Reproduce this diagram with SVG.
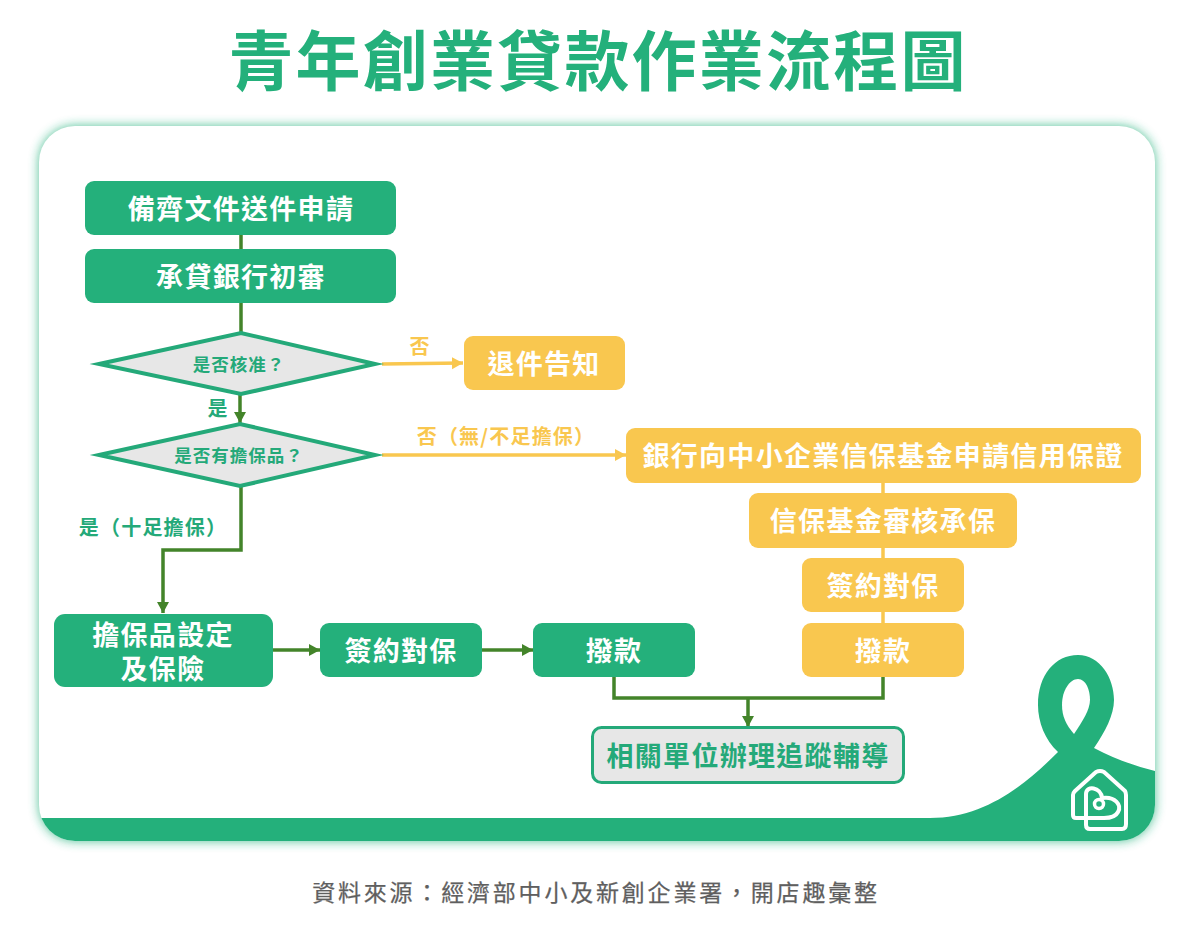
<svg xmlns="http://www.w3.org/2000/svg" width="1194" height="935" viewBox="0 0 1194 935">
<style>
text{font-family:"Noto Sans CJK TC","Noto Sans CJK SC",sans-serif;font-weight:700;text-anchor:middle}
.t{fill:#fff;font-size:27px;letter-spacing:1.300px}
.g{fill:#24b07b}.y{fill:#f9c74f}
.d{fill:#e7e7e7;stroke:#24a979;stroke-width:4;stroke-miterlimit:12}
.ln{fill:none;stroke:#43842a;stroke-width:3.500}
.ly{fill:none;stroke:#f9c74f;stroke-width:3.500}
.l{font-size:20px;letter-spacing:1.200px}
.q{font-size:17.500px;fill:#24a979;letter-spacing:1px}
</style>
<defs>
<filter id="glow" x="-5%" y="-5%" width="110%" height="110%"><feGaussianBlur stdDeviation="5.500"/></filter>
<clipPath id="card"><rect x="39" y="126" width="1116" height="715" rx="36"/></clipPath>
<marker id="ag" markerUnits="userSpaceOnUse" markerWidth="13" markerHeight="13" refX="11" refY="6" orient="auto"><path d="M0 0L11 6L0 12Z" fill="#43842a"/></marker>
<marker id="ay" markerUnits="userSpaceOnUse" markerWidth="13" markerHeight="13" refX="11" refY="6" orient="auto"><path d="M0 0L11 6L0 12Z" fill="#f9c74f"/></marker>
</defs>
<rect width="1194" height="935" fill="#fff"/>
<text x="598" y="85" font-size="65" fill="#24b07b" style="letter-spacing:2.200px">青年創業貸款作業流程圖</text>
<g id="card-bg">
<rect x="39" y="126" width="1116" height="715" rx="36" fill="#24b07b" opacity=".8" filter="url(#glow)"/>
<rect x="39" y="126" width="1116" height="715" rx="36" fill="#fff"/>
<g clip-path="url(#card)">
<path class="g" d="M39 818H930C985 818 1025 785 1058 752C1045 740 1038 722 1038 705C1038 675 1055 655 1078 655C1100 655 1114 678 1114 700C1114 715 1105 732 1094 748C1115 759 1135 766 1155 771V841H39Z"/>
<path fill="#fff" d="M1078 679C1086 679 1090 690 1090 700C1090 710 1082 722 1074 734C1066 725 1062 716 1062 705C1062 690 1070 679 1078 679Z"/>
</g>
<g id="logo" fill="none" stroke="#fff" stroke-width="4" stroke-linejoin="round" stroke-linecap="round">
<path d="M1085 818H1076Q1073 818 1073 815V795Q1073 793 1075 791L1096 772Q1100 770 1104 772L1125 791Q1126 793 1126 795V824Q1126 829 1122 829H1090Q1086 829 1086 825V794C1086 785 1101 787 1102 798C1115 796 1122 805 1118 812C1115 818 1108 818 1104 818H1085"/>
<circle cx="1099" cy="804" r="4.500" stroke-width="3.500"/>
</g>
</g>
<g id="connectors">
<path class="ln" d="M241 235V249"/>
<path class="ln" d="M241 303V332"/>
<path class="ln" d="M240 395V423" marker-end="url(#ag)"/>
<path class="ln" d="M241 487V550H163V613" marker-end="url(#ag)"/>
<path class="ln" d="M273 650H320" marker-end="url(#ag)"/>
<path class="ln" d="M482 650H533" marker-end="url(#ag)"/>
<path class="ln" d="M614 677V698H883V677"/>
<path class="ln" d="M748 698V727" marker-end="url(#ag)"/>
<path class="ly" d="M382 364L463 363" marker-end="url(#ay)"/>
<path class="ly" d="M382 455H626" marker-end="url(#ay)"/>
<path class="ly" d="M883 483V623"/>
</g>
<g id="n1"><rect class="g" x="85" y="181" width="311" height="54" rx="9"/><text class="t" x="241" y="219">備齊文件送件申請</text></g>
<g id="n2"><rect class="g" x="85" y="249" width="311" height="54" rx="9"/><text class="t" x="241" y="287">承貸銀行初審</text></g>
<g id="n3"><path class="d" d="M99 364L241 333L375 364L241 394Z"/><text class="q" x="239" y="371">是否核准？</text></g>
<g id="n4"><path class="d" d="M99 455L240 424L375 455L240 486Z"/><text class="q" x="239" y="462">是否有擔保品？</text></g>
<g id="n5"><rect class="y" x="464" y="336" width="161" height="54" rx="9"/><text class="t" x="544" y="374">退件告知</text></g>
<g id="n6"><rect class="y" x="626" y="428" width="515" height="55" rx="9"/><text class="t" x="883" y="466">銀行向中小企業信保基金申請信用保證</text></g>
<g id="n7"><rect class="y" x="749" y="493" width="268" height="55" rx="9"/><text class="t" x="883" y="531">信保基金審核承保</text></g>
<g id="n8"><rect class="y" x="802" y="558" width="162" height="54" rx="9"/><text class="t" x="883" y="596">簽約對保</text></g>
<g id="n9"><rect class="y" x="802" y="623" width="162" height="54" rx="9"/><text class="t" x="883" y="661">撥款</text></g>
<g id="n10"><rect class="g" x="54" y="614" width="219" height="73" rx="11"/><text class="t"><tspan x="163" y="645">擔保品設定</tspan><tspan x="163" y="679">及保險</tspan></text></g>
<g id="n11"><rect class="g" x="320" y="623" width="162" height="54" rx="9"/><text class="t" x="401" y="661">簽約對保</text></g>
<g id="n12"><rect class="g" x="533" y="623" width="162" height="54" rx="9"/><text class="t" x="614" y="661">撥款</text></g>
<g id="n13"><rect x="592.500" y="727.500" width="311" height="55" rx="9" fill="#e7e7e7" stroke="#24a979" stroke-width="3"/><text class="t" x="748" y="766" style="fill:#24a979">相關單位辦理追蹤輔導</text></g>
<g id="labels">
<text class="l y" x="420" y="354">否</text>
<text class="l y" x="506" y="444">否（無/不足擔保）</text>
<text class="l" x="218" y="416" fill="#24a979">是</text>
<text class="l" x="153" y="535" fill="#24a979">是（十足擔保）</text>
</g>
<text x="596" y="901" font-size="23" fill="#5f5f5f" stroke="#5f5f5f" stroke-width=".25" style="font-weight:400;letter-spacing:2.800px">資料來源：經濟部中小及新創企業署，開店趣彙整</text>
</svg>
